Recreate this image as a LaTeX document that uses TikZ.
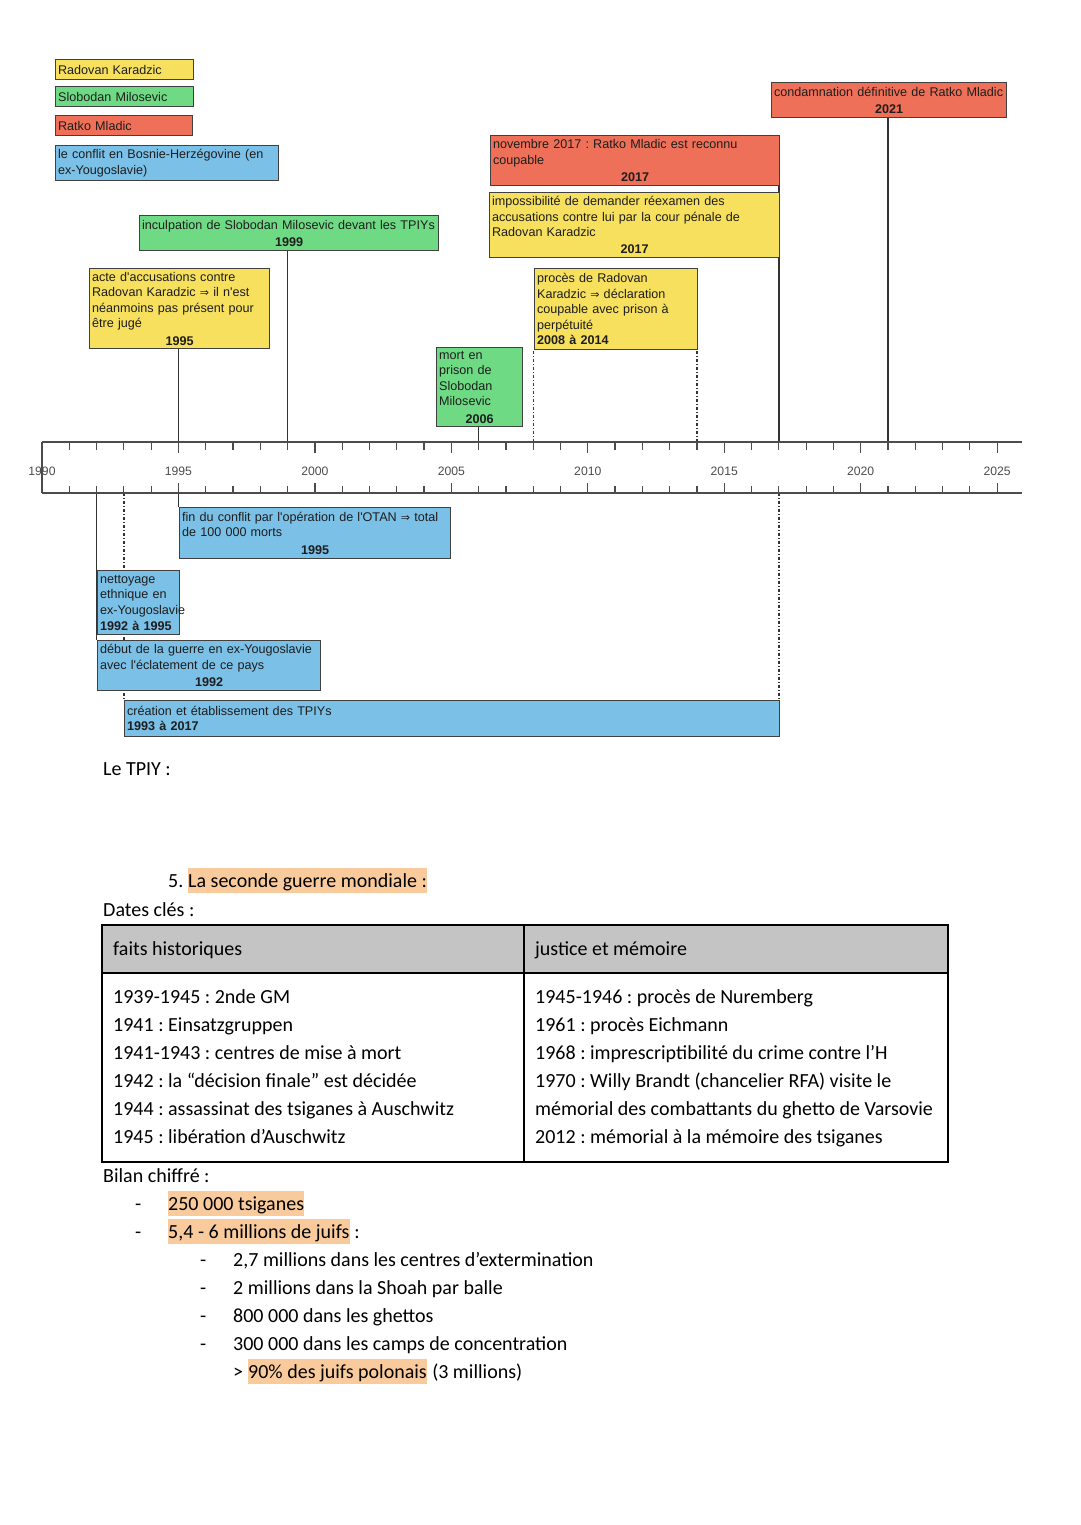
\documentclass[tikz,border=0pt]{standalone}
\usepackage{fontspec}
\setmainfont{Carlito}
\newfontfamily\chartfont{Liberation Sans}
\newfontfamily\arrfont{DejaVu Sans}
\usetikzlibrary{positioning,calc,backgrounds}
\definecolor{karadzic}{HTML}{F6E05E}
\definecolor{milosevic}{HTML}{6EDB84}
\definecolor{mladic}{HTML}{EE7058}
\definecolor{conflit}{HTML}{7BC0E6}
\definecolor{edgegrey}{HTML}{404040}
\definecolor{ink}{HTML}{1E1E1E}
\definecolor{axisgrey}{HTML}{4C4C4C}
\definecolor{peach}{HTML}{F9CB9C}
\definecolor{headgrey}{HTML}{C4C4C4}
\colorlet{linkgrey}{edgegrey!80!black}
\frenchspacing
\newcommand{\implarrow}{{\arrfont\fontsize{11}{12}\selectfont ⇒}}
\newcommand{\yearline}[1]{\\[1.5pt]\hspace*{\fill}\textbf{#1}\hspace*{\fill}}

\begin{document}
\begin{tikzpicture}[x=1pt,y=-1pt,
    evt/.style={draw=edgegrey,line width=1.2pt,anchor=north west,align=left,
      inner xsep=2.5pt,inner ysep=1pt,text=ink,
      font=\chartfont\fontsize{12.6}{15.6}\selectfont\frenchspacing},
    tick/.style={axisgrey,line width=1.2pt},
    yearlbl/.style={anchor=base,inner sep=0pt,text=axisgrey,
      font=\chartfont\fontsize{12.2}{14}\selectfont},
    link/.style={linkgrey,line width=1.4pt},
    dashlink/.style={linkgrey,line width=1.4pt,dash pattern=on 3pt off 2pt on 1pt off 2pt},
    body/.style={anchor=base west,inner sep=0pt,text=black,font=\fontsize{20}{28}\selectfont\frenchspacing},
    hlbox/.style={body,fill=peach,text height=16.5pt,text depth=3.5pt,inner ysep=2.5pt}]
  \useasboundingbox (0,0) rectangle (1080,1525);

  % legend
  \node[evt,fill=karadzic,text width=133pt,minimum height=20pt] (lgK) at (55,59) {Radovan Karadzic};
  \node[evt,fill=milosevic,text width=133pt,minimum height=20pt] (lgS) at (55,86) {Slobodan Milosevic};
  \node[evt,fill=mladic,text width=132pt,minimum height=20pt] (lgM) at (55,115) {Ratko Mladic};
  \node[evt,fill=conflit,text width=218pt,minimum height=35pt] (lgC) at (55,145)
    {le conflit en Bosnie-Herzégovine (en\\ex-Yougoslavie)};

  % axis
  \draw[tick] (42,442) -- (1022,442);
  \draw[tick] (42,493) -- (1022,493);
  \draw[tick] (42,442) -- (42,493);
  \foreach \y in {1990,...,2025} {
    \pgfmathsetmacro\xx{42+(\y-1990)*27.29}
    \pgfmathtruncatemacro\m{mod(\y,5)}
    \coordinate (top\y) at (\xx,442);
    \coordinate (bot\y) at (\xx,493);
    \ifnum\m=0
      \draw[tick] (top\y) -- ++(0,11);
      \draw[tick] (bot\y) -- ++(0,-10);
      \node[yearlbl] (lbl\y) at ($(top\y)+(0,33.5)$) {\y};
    \else
      \draw[tick] (top\y) -- ++(0,8);
      \draw[tick] (bot\y) -- ++(0,-7);
    \fi
  }

  % above the axis
  \node[evt,fill=milosevic,text width=294pt,minimum height=35pt] (inculp) at (139,215)
    {inculpation de Slobodan Milosevic devant les TPIYs\yearline{1999}};
  \node[evt,fill=karadzic,text width=175pt,minimum height=80pt] (acte) at (89,268)
    {acte d'accusations contre\\Radovan Karadzic \implarrow{} il n'est\\néanmoins pas présent pour\\être jugé\yearline{1995}};
  \node[evt,fill=milosevic,text width=81pt,minimum height=79pt] (mort) at (436,347)
    {mort en\\prison de\\Slobodan\\Milosevic\yearline{2006}};
  \node[evt,fill=karadzic,text width=158pt,minimum height=81pt] (proces) at (534,268)
    {procès de Radovan\\Karadzic \implarrow{} déclaration\\coupable avec prison à\\perpétuité\\\textbf{2008 à 2014}};
  \node[evt,fill=karadzic,text width=285pt,minimum height=65pt] (imposs) at (489,192)
    {impossibilité de demander réexamen des\\accusations contre lui par la cour pénale de\\Radovan Karadzic\yearline{2017}};
  \node[evt,fill=mladic,text width=284pt,minimum height=50pt] (nov) at (490,135)
    {novembre 2017 : Ratko Mladic est reconnu\\coupable\yearline{2017}};
  \node[evt,fill=mladic,text width=230pt,minimum height=35pt] (condam) at (771,82)
    {condamnation définitive de Ratko Mladic\yearline{2021}};

  % below the axis
  \node[evt,fill=conflit,text width=266pt,minimum height=51pt] (fin) at (179,507)
    {fin du conflit par l'opération de l'OTAN \implarrow{} total\\de 100 000 morts\yearline{1995}};
  \node[evt,fill=conflit,text width=77pt,minimum height=64pt] (nett) at (97,570)
    {nettoyage\\ethnique en\\\mbox{ex-Yougoslavie}\\\textbf{1992 à 1995}};
  \node[evt,fill=conflit,text width=218pt,minimum height=50pt] (debut) at (97,640)
    {début de la guerre en ex-Yougoslavie\\avec l'éclatement de ce pays\yearline{1992}};
  \node[evt,fill=conflit,text width=650pt,minimum height=36pt] (creat) at (124,700)
    {création et établissement des TPIYs\\\textbf{1993 à 2017}};

  \begin{scope}[on background layer]
    \draw[link] (top1995) -- (top1995 |- acte.south);
    \draw[link] (top1999) -- (top1999 |- inculp.south);
    \draw[link] (top2006) -- (top2006 |- mort.south);
    \draw[dashlink] (top2008) -- (top2008 |- proces.south);
    \draw[dashlink] (top2014) -- (top2014 |- proces.south);
    \draw[link] (top2017) -- (top2017 |- nov.south);
    \draw[link] (top2021) -- (top2021 |- condam.south);
    \draw[link] (bot1992) -- (bot1992 |- debut.north);
    \draw[dashlink] (bot1993) -- (bot1993 |- creat.north);
    \draw[link] (bot1995) -- (bot1995 |- fin.north);
    \draw[dashlink] (bot2017) -- (bot2017 |- creat.north);
  \end{scope}

  % notes
  \node[body] (tpiy) at (103,775) {Le TPIY :};
  \node[body] (num5) at (168,887) {5.};
  \node[hlbox] (ww2) at (188,887) {La seconde guerre mondiale :};
  \node[body] (dates) at (103,916) {Dates clés :};

  \fill[headgrey] (102,925) rectangle (948,973);
  \draw[line width=2pt] (102,925) rectangle (948,1162);
  \draw[line width=2pt] (102,973) -- (948,973);
  \draw[line width=2pt] (524,925) -- (524,1162);
  \node[body] (hfaits) at (113,955) {faits historiques};
  \node[body] (hjust) at (535,955) {justice et mémoire};
  \foreach \t [count=\i] in {{1939-1945 : 2nde GM},{1941 : Einsatzgruppen},
      {1941-1943 : centres de mise à mort},{1942 : la “décision finale” est décidée},
      {1944 : assassinat des tsiganes à Auschwitz},{1945 : libération d’Auschwitz}}
    \node[body] (fait\i) at (113,975+28*\i) {\t};
  \foreach \t [count=\i] in {{1945-1946 : procès de Nuremberg},{1961 : procès Eichmann},
      {1968 : imprescriptibilité du crime contre l’H},{1970 : Willy Brandt (chancelier RFA) visite le},
      {mémorial des combattants du ghetto de Varsovie},{2012 : mémorial à la mémoire des tsiganes}}
    \node[body] (just\i) at (535,975+28*\i) {\t};

  \node[body] (bilan) at (103,1182) {Bilan chiffré :};
  \node[body] (d1) at (135,1210) {-};
  \node[hlbox] (tsig) at (168,1210) {250 000 tsiganes};
  \node[body] (d2) at (135,1238) {-};
  \node[hlbox] (juifs) at (168,1238) {5,4 - 6 millions de juifs};
  \node[body] (juifsc) at (juifs.base east) {~:};
  \foreach \t [count=\i] in {{2,7 millions dans les centres d’extermination},
      {2 millions dans la Shoah par balle},{800 000 dans les ghettos},
      {300 000 dans les camps de concentration}} {
    \node[body] (sd\i) at (200,1238+28*\i) {-};
    \node[body] (sub\i) at (233,1238+28*\i) {\t};
  }
  \node[body] (gt) at (233,1378) {>};
  \node[hlbox] (polo) at (248,1378) {90\% des juifs polonais};
  \node[body] (trois) at ([xshift=5pt]polo.base east) {(3 millions)};
\end{tikzpicture}
\end{document}
